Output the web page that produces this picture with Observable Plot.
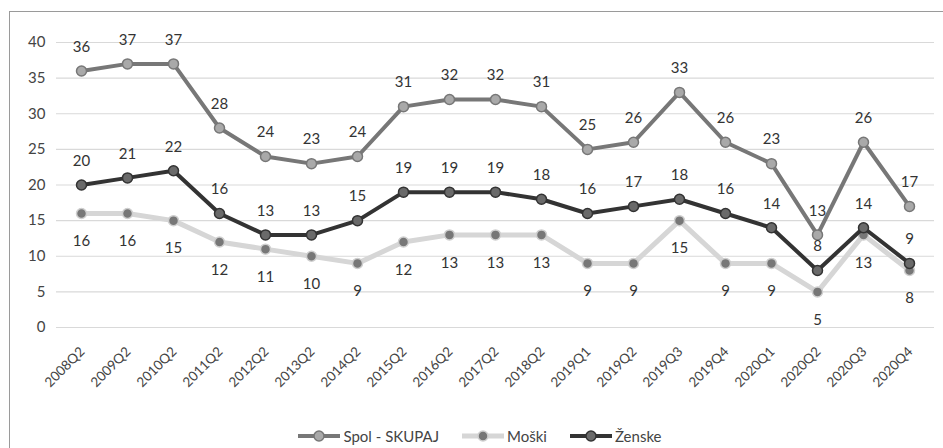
<!DOCTYPE html>
<html>
<head>
<meta charset="utf-8">
<script src="https://cdn.jsdelivr.net/npm/d3@7"></script>
<script src="https://cdn.jsdelivr.net/npm/@observablehq/plot@0.6"></script>
<style>
  html, body { margin: 0; padding: 0; background: #fff; }
  #wrap { position: relative; width: 943px; height: 448px; overflow: hidden; font-family: Lato, "Open Sans", sans-serif; }
  #frame { position: absolute; left: 9px; top: 11px; width: 960px; height: 460px; border-left: 1.5px solid #9a9a9a; border-top: 1.5px solid #9a9a9a; box-sizing: border-box; pointer-events: none; }
  #chart { position: absolute; left: 0; top: 0; }
  #legend { position: absolute; left: 8px; top: 424px; width: 943px; height: 24px; display: flex; justify-content: center; align-items: center; gap: 22px; font-size: 15px; color: #444; }
  .item { display: flex; align-items: center; gap: 2px; }
</style>
</head>
<body>
<div id="wrap">
  <div id="chart"></div>
  <div id="legend"></div>
  <div id="frame"></div>
</div>
<script>
const categories = ["2008Q2","2009Q2","2010Q2","2011Q2","2012Q2","2013Q2","2014Q2","2015Q2","2016Q2","2017Q2","2018Q2","2019Q1","2019Q2","2019Q3","2019Q4","2020Q1","2020Q2","2020Q3","2020Q4"];
const spol   = [36,37,37,28,24,23,24,31,32,32,31,25,26,33,26,23,13,26,17];
const moski  = [16,16,15,12,11,10,9,12,13,13,13,9,9,15,9,9,5,13,8];
const zenske = [20,21,22,16,13,13,15,19,19,19,18,16,17,18,16,14,8,14,9];
const seriesNames = ["Spol - SKUPAJ", "Moški", "Ženske"];
const yTicks = [0,5,10,15,20,25,30,35,40];

const styles = {
  "Spol - SKUPAJ": {line: "#777777", width: 4, fill: "#a9a9a9", stroke: "#777777", labelDy: -24},
  "Moški":         {line: "#d6d6d6", width: 5, fill: "#777777", stroke: "#cfcfcf", labelDy: 28},
  "Ženske":        {line: "#333333", width: 4, fill: "#6a6a6a", stroke: "#333333", labelDy: -24}
};

const table = (name, vals) => categories.map((c, i) => ({cat: c, value: vals[i], series: name}));
const data = {
  "Spol - SKUPAJ": table("Spol - SKUPAJ", spol),
  "Moški": table("Moški", moski),
  "Ženske": table("Ženske", zenske)
};

const marks = [
  Plot.ruleY(yTicks, {stroke: "#d9d9d9", strokeWidth: 1.2}),
  Plot.text(yTicks, {x: () => categories[0], y: d => d, text: d => String(d), dx: -36, textAnchor: "end", fill: "#444", fontSize: 15}),
  Plot.text(categories, {x: d => d, y: () => 0, text: d => d, rotate: -45, textAnchor: "end", lineAnchor: "middle", dx: 1, dy: 22, fill: "#444", fontSize: 13.5})
];
for (const name of seriesNames) {
  const s = styles[name];
  marks.push(Plot.line(data[name], {x: "cat", y: "value", stroke: s.line, strokeWidth: s.width, strokeLinejoin: "round"}));
  marks.push(Plot.dot(data[name], {x: "cat", y: "value", r: 5, fill: s.fill, stroke: s.stroke, strokeWidth: 1.5}));
}
for (const name of seriesNames) {
  const s = styles[name];
  marks.push(Plot.text(data[name], {x: "cat", y: "value", text: d => String(d.value), dy: s.labelDy, fill: "#333", fontSize: 15}));
}

const chart = Plot.plot({
  width: 943,
  height: 400,
  marginLeft: 56,
  marginRight: 9,
  marginTop: 42,
  marginBottom: 73,
  style: {fontFamily: "Lato, 'Open Sans', sans-serif", background: "transparent", overflow: "visible"},
  x: {type: "point", domain: categories, padding: 0.5, axis: null},
  y: {domain: [0, 40], axis: null},
  marks
});
document.getElementById("chart").appendChild(chart);

const legend = document.getElementById("legend");
for (const name of seriesNames) {
  const s = styles[name];
  const item = document.createElement("div");
  item.className = "item";
  item.innerHTML = `<svg width="44" height="14"><line x1="1" y1="7" x2="43" y2="7" stroke="${s.line}" stroke-width="${s.width}"/><circle cx="22" cy="7" r="5" fill="${s.fill}" stroke="${s.stroke}" stroke-width="1.5"/></svg><span>${name}</span>`;
  legend.appendChild(item);
}
</script>
</body>
</html>
